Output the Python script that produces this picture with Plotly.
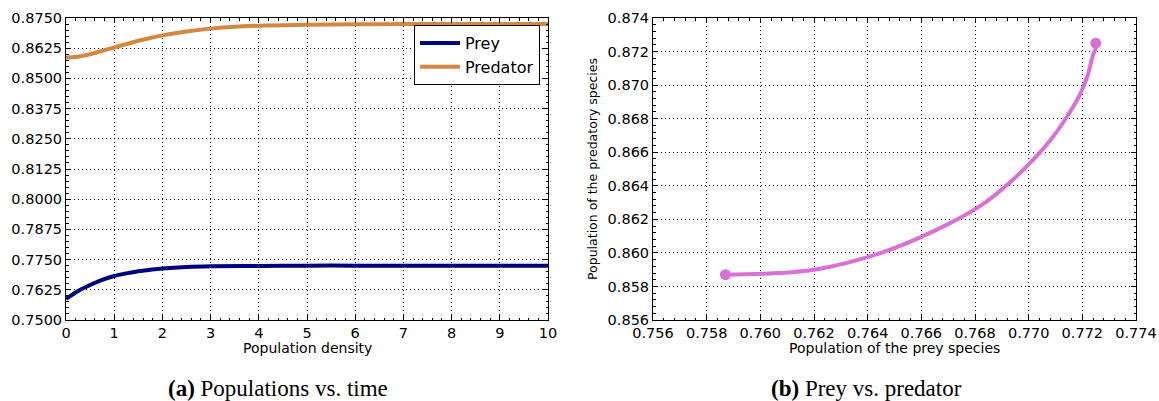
import plotly.graph_objects as go

# ---- data ----
time = [0, 0.25, 0.5, 0.75, 1, 1.25, 1.5, 1.75, 2, 2.5, 3, 4, 5, 6, 7, 8, 9, 10]
prey = [0.7587, 0.7620, 0.7645, 0.7666, 0.7682, 0.7693, 0.7702, 0.7708, 0.7713, 0.7719,
        0.7722, 0.7724, 0.7725, 0.7725, 0.7725, 0.7725, 0.7725, 0.7725]
predator = [0.8587, 0.8590, 0.8600, 0.8614, 0.8628, 0.8642, 0.8656, 0.8667, 0.8678, 0.8694,
            0.8706, 0.8718, 0.8722, 0.8724, 0.8725, 0.8725, 0.8725, 0.8725]

left_yticks = [0.75, 0.7625, 0.775, 0.7875, 0.8, 0.8125, 0.825, 0.8375, 0.85, 0.8625, 0.875]
left_xticks = list(range(0, 11))
right_xticks = [0.756, 0.758, 0.760, 0.762, 0.764, 0.766, 0.768, 0.770, 0.772, 0.774]
right_yticks = [0.856, 0.858, 0.860, 0.862, 0.864, 0.866, 0.868, 0.870, 0.872, 0.874]

W, H = 1159, 401
FONT = "DejaVu Sans"

def px_x(p):
    return p / W

def px_y(p):
    return 1 - p / H

fig = go.Figure()

fig.add_trace(go.Scatter(x=time, y=prey, name="Prey", mode="lines",
                         line=dict(color="#000080", width=4, shape="spline"),
                         xaxis="x", yaxis="y"))
fig.add_trace(go.Scatter(x=time, y=predator, name="Predator", mode="lines",
                         line=dict(color="#d4873f", width=4, shape="spline"),
                         xaxis="x", yaxis="y"))

fig.add_trace(go.Scatter(x=prey, y=predator, mode="lines", showlegend=False,
                         line=dict(color="#da70d6", width=4, shape="spline"),
                         xaxis="x2", yaxis="y2"))
fig.add_trace(go.Scatter(x=[prey[0], prey[-1]], y=[predator[0], predator[-1]],
                         mode="markers", showlegend=False,
                         marker=dict(color="#da70d6", size=11),
                         xaxis="x2", yaxis="y2"))

common = dict(
    showline=True, linecolor="black", linewidth=1, mirror="allticks",
    ticks="inside", ticklen=5, tickcolor="black", tickwidth=1,
    showgrid=True, gridcolor="black", griddash="1px,3px", gridwidth=1,
    zeroline=False, automargin=False,
    tickfont=dict(family=FONT, size=14.5, color="black"),
)

def minor(dt):
    return dict(dtick=dt, ticks="inside", ticklen=2.5, tickcolor="black", showgrid=False)

ydom = [px_y(320), px_y(18)]

fig.update_layout(
    width=W, height=H,
    margin=dict(l=0, r=0, t=0, b=0, autoexpand=False),
    paper_bgcolor="white", plot_bgcolor="white",
    font=dict(family=FONT, color="black"),
    xaxis=dict(domain=[px_x(66), px_x(548)], range=[0, 10], tickvals=left_xticks,
               minor=minor(0.2), anchor="y", **common),
    yaxis=dict(domain=ydom, range=[0.75, 0.875], tickvals=left_yticks, tickformat=".4f",
               minor=minor(0.0025), anchor="x", **common),
    xaxis2=dict(domain=[px_x(653), px_x(1136)], range=[0.756, 0.774], tickvals=right_xticks,
                tickformat=".3f", minor=minor(0.0004), anchor="y2", **common),
    yaxis2=dict(domain=ydom, range=[0.856, 0.874], tickvals=right_yticks, tickformat=".3f",
                minor=minor(0.0004), anchor="x2", **common),
    legend=dict(x=px_x(540), y=px_y(25), xanchor="right", yanchor="top",
                bgcolor="white", bordercolor="black", borderwidth=1,
                font=dict(family=FONT, size=16, color="black"),
                tracegroupgap=0, itemwidth=40),
    showlegend=True,
)

annos = [
    dict(text="Population density", x=px_x(307), y=px_y(348), font=dict(size=14)),
    dict(text="Population of the prey species", x=px_x(894), y=px_y(348), font=dict(size=14)),
    dict(text="Population of the predatory species", x=px_x(592), y=px_y(169),
         font=dict(size=12.5), textangle=-90),
    dict(text="<b>(a)</b> Populations vs. time", x=px_x(278), y=px_y(388),
         font=dict(family="Liberation Serif", size=23)),
    dict(text="<b>(b)</b> Prey vs. predator", x=px_x(866), y=px_y(388),
         font=dict(family="Liberation Serif", size=23)),
]
for a in annos:
    f = dict(family=FONT, color="black")
    f.update(a.pop("font"))
    fig.add_annotation(xref="paper", yref="paper", showarrow=False,
                       xanchor="center", yanchor="middle", font=f, **a)

# remove the default 8px page margin so the figure fills the window exactly
fig.write_html("out.html",
               config={"displayModeBar": False},
               post_script="document.body.style.margin='0';document.body.style.overflow='hidden';")
